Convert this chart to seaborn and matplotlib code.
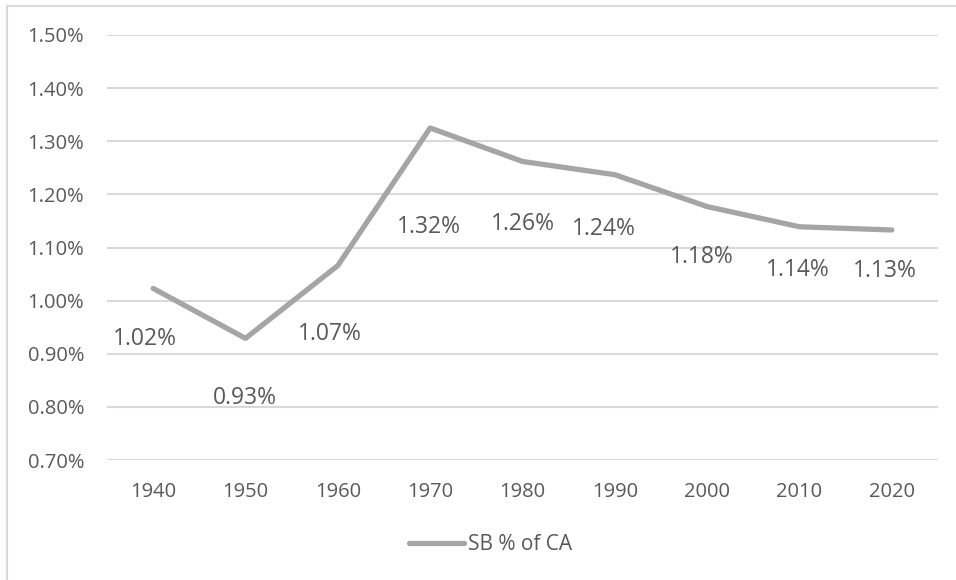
import pandas as pd
import matplotlib.pyplot as plt
import seaborn as sns
from matplotlib.patches import Rectangle
from matplotlib.ticker import FuncFormatter

# Chart data
years = ["1940", "1950", "1960", "1970", "1980", "1990", "2000", "2010", "2020"]
sb_pct = [1.023, 0.929, 1.066, 1.325, 1.262, 1.237, 1.177, 1.139, 1.133]
series_name = "SB % of CA"

# Excel-style label placement: pixel offsets of each data label from its point
label_dx = [-8, -1, -8, -1, 0, -11, -5, -2, -7]
label_dy = [49, 58, 66, 97, 61, 52, 48, 41, 39]

TEXT = "#595959"
LINE = "#A5A5A5"
GRID = "#D9D9D9"


def main():
    df = pd.DataFrame({"year": years, "value": sb_pct})
    df["pos"] = range(len(df))

    sns.set_theme(style="white")
    plt.rcParams["font.family"] = ["Open Sans", "DejaVu Sans"]

    fig = plt.figure(figsize=(9.56, 5.8), dpi=100)
    ax = fig.add_axes([107 / 956, 1 - 460 / 580, 831 / 956, 425 / 580])

    # Outer chart border (only top and left edges are visible in the crop)
    fig.patches.append(Rectangle((7 / 956, -0.05), 1.0, 1 - 6 / 580 + 0.05,
                                 transform=fig.transFigure, fill=False,
                                 edgecolor=GRID, linewidth=1.5))

    sns.lineplot(data=df, x="pos", y="value", ax=ax, color=LINE, linewidth=3.8,
                 solid_capstyle="round", legend=False)

    # Data labels below each point
    for x, y, dx, dy in zip(df["pos"], df["value"], label_dx, label_dy):
        ax.annotate(f"{y:.2f}%", (x, y), xytext=(dx, -(dy + 8)), textcoords="offset pixels",
                    ha="center", va="baseline", fontsize=16.5, color=TEXT)

    ax.set_xlim(-0.5, len(years) - 0.5)
    ax.set_ylim(0.70, 1.50)
    ax.set_yticks([0.70 + 0.10 * i for i in range(9)])
    ax.yaxis.set_major_formatter(FuncFormatter(lambda v, _: f"{v:.2f}%"))
    ax.set_xticks(df["pos"])
    ax.set_xticklabels(years)
    ax.set_xlabel("")
    ax.set_ylabel("")

    ax.grid(axis="y", color=GRID, linewidth=1.5)
    ax.set_axisbelow(True)
    for side in ax.spines.values():
        side.set_visible(False)
    ax.tick_params(axis="both", length=0, labelsize=14.5, colors=TEXT)
    ax.tick_params(axis="y", pad=16.5)
    ax.tick_params(axis="x", pad=16)

    handle = plt.Line2D([], [], color=LINE, linewidth=3.8, solid_capstyle="round")
    fig.legend([handle], [series_name], loc="center", bbox_to_anchor=(0.513, 1 - 545 / 580),
               frameon=False, fontsize=15, labelcolor=TEXT, handlelength=2.64,
               handletextpad=0.2)

    fig.savefig("out.png", dpi=100)


if __name__ == "__main__":
    main()
